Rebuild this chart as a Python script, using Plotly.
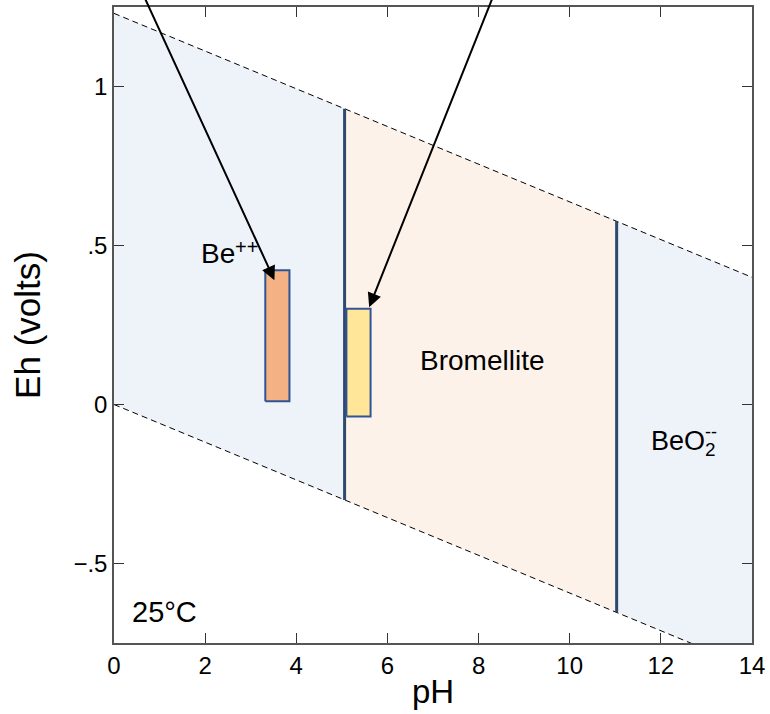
import plotly.graph_objects as go

# ---- data ----
# water stability limits (dashed lines), endpoints at pH 0 and 14
water_ph = [0, 14]
upper_eh = [1.23, 0.40]
lower_eh = [0.0, -0.83]

# field boundaries (vertical lines): pH, Eh bottom, Eh top
boundary_ph = [5.06, 11.03]
boundary_eh_bottom = [-0.30, -0.653]
boundary_eh_top = [0.930, 0.577]

# field polygons (pH, Eh corners)
be_field_ph = [0, 5.06, 5.06, 0]
be_field_eh = [1.23, 0.930, -0.30, 0.0]
brom_field_ph = [5.06, 11.03, 11.03, 5.06]
brom_field_eh = [0.930, 0.577, -0.653, -0.30]
beo2_field_ph = [11.03, 14, 14, 11.03]
beo2_field_eh = [0.577, 0.40, -0.83, -0.653]

# measured ranges (boxes): pH min/max, Eh min/max
box_orange = dict(ph=[3.32, 3.85], eh=[0.01, 0.422])
box_yellow = dict(ph=[5.10, 5.63], eh=[-0.038, 0.301])

# arrows: head (pH, Eh), tail (pH, Eh)
arrow_heads = [(3.52, 0.391), (5.60, 0.306)]
arrow_tails = [(0.67, 1.28), (8.31, 1.28)]

x_ticks = [0, 2, 4, 6, 8, 10, 12, 14]
y_ticks = [-0.5, 0, 0.5, 1]
y_ticktext = ["\u2212.5", "0", ".5", "1"]

FONT = "Liberation Sans, Arial, sans-serif"
BLUE_FILL = "#EEF2F9"
PEACH_FILL = "#FDF2E9"
LINE_NAVY = "#2C4A6E"
BOX_EDGE = "#2F5597"

fig = go.Figure()

def poly(xs, ys, color):
    fig.add_trace(go.Scatter(x=xs + [xs[0]], y=ys + [ys[0]], fill="toself",
                             fillcolor=color, line=dict(width=0), mode="lines",
                             hoverinfo="skip", showlegend=False))

poly(be_field_ph, be_field_eh, BLUE_FILL)
poly(brom_field_ph, brom_field_eh, PEACH_FILL)
poly(beo2_field_ph, beo2_field_eh, BLUE_FILL)

for eh in (upper_eh, lower_eh):
    fig.add_trace(go.Scatter(x=water_ph, y=eh, mode="lines",
                             line=dict(color="black", width=1, dash="6px,4px"),
                             hoverinfo="skip", showlegend=False))

for ph, b, t in zip(boundary_ph, boundary_eh_bottom, boundary_eh_top):
    fig.add_trace(go.Scatter(x=[ph, ph], y=[b, t], mode="lines",
                             line=dict(color=LINE_NAVY, width=3),
                             hoverinfo="skip", showlegend=False))

for box, col in ((box_orange, "#F4B183"), (box_yellow, "#FFE699")):
    x0, x1 = box["ph"]
    y0, y1 = box["eh"]
    fig.add_trace(go.Scatter(x=[x0, x1, x1, x0, x0], y=[y0, y0, y1, y1, y0],
                             fill="toself", fillcolor=col, mode="lines",
                             line=dict(color=BOX_EDGE, width=2),
                             hoverinfo="skip", showlegend=False))

annotations = []
for (hx, hy), (tx, ty) in zip(arrow_heads, arrow_tails):
    annotations.append(dict(x=hx, y=hy, ax=tx, ay=ty, xref="x", yref="y",
                            axref="x", ayref="y", text="", showarrow=True,
                            arrowhead=2, arrowsize=1.4, arrowwidth=2,
                            arrowcolor="black", standoff=0))

annotations += [
    dict(x=1.86, y=0.475, xref="x", yref="y", text="Be",
         showarrow=False, xanchor="left", yanchor="middle",
         font=dict(family=FONT, size=28, color="black")),
    dict(x=2.90, y=0.496, xref="x", yref="y", text="++",
         showarrow=False, xanchor="center", yanchor="middle",
         font=dict(family=FONT, size=20, color="black")),
    dict(x=8.07, y=0.137, xref="x", yref="y", text="Bromellite",
         showarrow=False, xanchor="center", yanchor="middle",
         font=dict(family=FONT, size=28, color="black")),
    dict(x=11.74, y=-0.121, xref="x", yref="y", text="BeO<sub>2</sub>",
         showarrow=False, xanchor="left", yanchor="middle",
         font=dict(family=FONT, size=27, color="black")),
    dict(x=13.1, y=-0.088, xref="x", yref="y", text="--",
         showarrow=False, xanchor="center", yanchor="middle",
         font=dict(family=FONT, size=18, color="black")),
    dict(x=1.11, y=-0.654, xref="x", yref="y", text="25°C",
         showarrow=False, xanchor="center", yanchor="middle",
         font=dict(family=FONT, size=29, color="black")),
]

axis_common = dict(showline=True, linecolor="#555555", linewidth=1.5,
                   mirror="ticks", ticks="inside", ticklen=10, tickwidth=1.2,
                   tickcolor="#333333", showgrid=False, zeroline=False,
                   tickfont=dict(family=FONT, size=24, color="black"))

fig.update_layout(
    width=770, height=714,
    margin=dict(l=114, r=17, t=5, b=71),
    paper_bgcolor="white", plot_bgcolor="white",
    showlegend=False,
    annotations=annotations,
    xaxis=dict(range=[0, 14], tickvals=x_ticks,
               title=dict(text="pH", font=dict(family=FONT, size=33, color="black"), standoff=2),
               **axis_common),
    yaxis=dict(range=[-0.75, 1.25], tickvals=y_ticks, ticktext=y_ticktext,
               title=dict(text="Eh (volts)", font=dict(family=FONT, size=35, color="black"), standoff=22),
               **axis_common),
)

fig.write_html("out.html")
